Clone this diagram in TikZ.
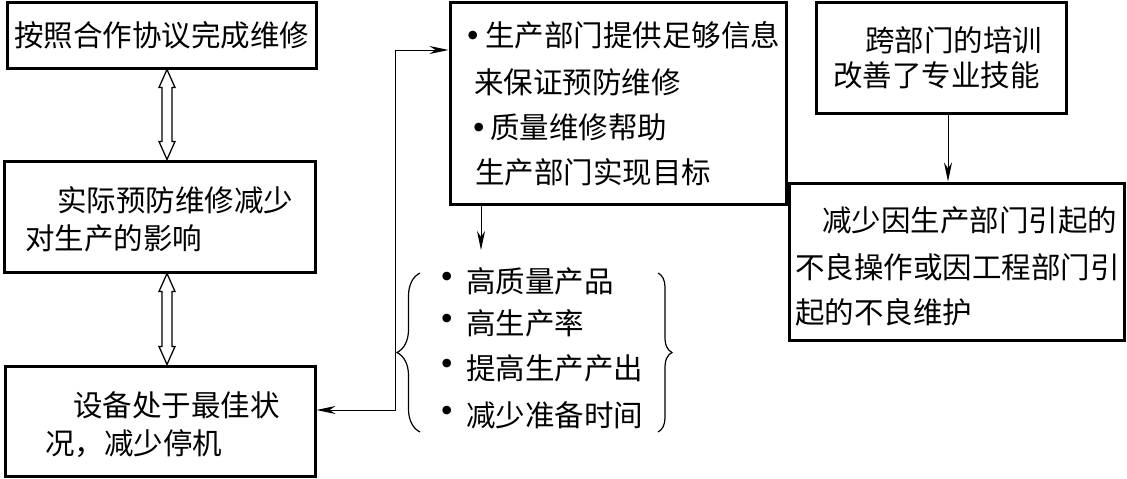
\documentclass[tikz,border=0pt]{standalone}
\usepackage{fontspec}
\newfontfamily\cjk{Noto Sans CJK SC}
\newfontfamily\djv{DejaVu Sans}
\usetikzlibrary{arrows.meta,decorations.pathreplacing}
\newcommand\mybul[2]{\makebox[#1][c]{\raisebox{#2}{\djv •}}}
\begin{document}
\begin{tikzpicture}[x=1pt,y=-1pt,
  box/.style={draw,line width=3pt,inner sep=0pt},
  txt/.style={anchor=base west,inner sep=0pt,font=\cjk\fontsize{29.5pt}{35pt}\selectfont},
  conn/.style={line width=1pt,arrows={-{Stealth[length=19pt,width=8pt,inset=6pt]}}},
  dbl/.style={draw,line width=1.3pt,fill=white,line join=miter},
  brc/.style={line width=1.2pt,decorate,decoration={brace,amplitude=#1}}]
\useasboundingbox (0,0) rectangle (1127,479);
\fill[white] (0,0) rectangle (1127,479);
% boxes
\node[box,minimum width=309pt,minimum height=66pt] (A) at (161.5,35) {};
\node[box,minimum width=311pt,minimum height=111pt] (B) at (159.5,216.5) {};
\node[box,minimum width=310pt,minimum height=110pt] (C) at (160,421) {};
\node[box,minimum width=336pt,minimum height=202pt] (D) at (618,103) {};
\node[box,minimum width=250pt,minimum height=111pt] (E) at (941,57.5) {};
\node[box,minimum width=335pt,minimum height=157pt] (F) at (956.5,261.5) {};
% texts
\node[txt] (a1) at (14,46) {按照合作协议完成维修};
\node[txt] (b1) at (57,211) {实际预防维修减少};
\node[txt] (b2) at (25,249) {对生产的影响};
\node[txt] (c1) at (73,416) {设备处于最佳状};
\node[txt] (c2) at (45,454) {况，减少停机};
\node[txt] (d1) at (461,46) {\mybul{24pt}{0pt}生产部门提供足够信息};
\node[txt] (d2) at (474,93) {来保证预防维修};
\node[txt] (d3) at (468,138) {\mybul{22pt}{0pt}质量维修帮助};
\node[txt] (d4) at (475,183) {生产部门实现目标};
\node[txt] (l1) at (428,292) {\mybul{38pt}{5pt}高质量产品};
\node[txt] (l2) at (428,334) {\mybul{38pt}{5pt}高生产率};
\node[txt] (l3) at (428,379) {\mybul{38pt}{5pt}提高生产产出};
\node[txt] (l4) at (428,426) {\mybul{38pt}{5pt}减少准备时间};
\node[txt] (e1) at (865,51) {跨部门的培训};
\node[txt] (e2) at (833,86) {改善了专业技能};
\node[txt] (f1) at (822,231) {减少因生产部门引起的};
\node[txt] (f2) at (795,278) {不良操作或因工程部门引};
\node[txt] (f3) at (795,323) {起的不良维护};
% double arrows
\coordinate (ax) at (167,0);
\foreach \u/\l in {A/B,B/C}{
  \coordinate (t) at (\u.south -| ax);
  \coordinate (b) at (\l.north -| ax);
  \draw[dbl] (t) -- ([shift={(8,18)}]t) -- ([shift={(5,18)}]t) -- ([shift={(5,-18)}]b) -- ([shift={(8,-18)}]b) -- (b)
    -- ([shift={(-8,-18)}]b) -- ([shift={(-5,-18)}]b) -- ([shift={(-5,18)}]t) -- ([shift={(-8,18)}]t) -- cycle;
}
% feedback connector
\coordinate (j1) at (395,50);
\coordinate (j2) at (395,410);
\draw[conn,arrows={{Stealth[length=19pt,width=8pt,inset=6pt]}-{Stealth[length=19pt,width=8pt,inset=6pt]}}]
  (C.east |- j2) -- (j2) -- (j1) -- (D.west |- j1);
% down arrows
\coordinate (dx) at (481,250);
\draw[conn] (D.south -| dx) -- (dx);
\coordinate (ex) at (948,0);
\draw[conn] (E.south -| ex) -- (F.north -| ex);
% braces
\draw[brc=23pt] (420,432) -- (420,273);
\draw[brc=14pt] (658,273) -- (658,432);
\end{tikzpicture}
\end{document}
